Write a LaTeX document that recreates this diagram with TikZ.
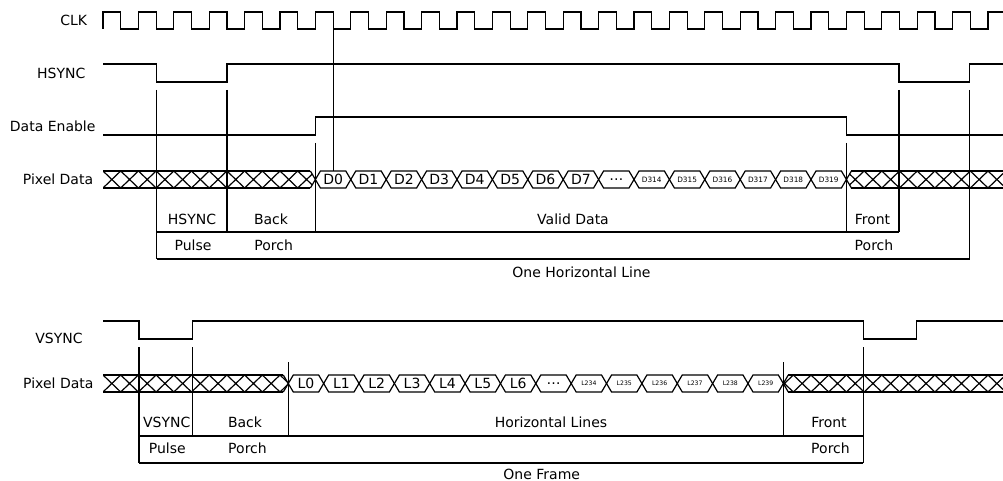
\documentclass[tikz,border=0pt]{standalone}
\usepackage{fontspec}
\setmainfont{DejaVu Sans}
\usetikzlibrary{positioning}

% crossed (invalid) bus section: xa, xb, top, bottom, left taper, right taper
\newcommand{\hatchbus}[6]{%
  \begin{scope}
    \clip (#1,{(#3+#4)/2}) -- (#1+#5,#3) -- (#2-#6,#3) -- (#2,{(#3+#4)/2}) -- (#2-#6,#4) -- (#1+#5,#4) -- cycle;
    \foreach \hx in {103,120.7,...,1010} {
      \draw (\hx,#3) -- ++(17.7,#4-#3) (\hx,#4) -- ++(17.7,#3-#4);
    }
  \end{scope}
  \draw (#1+#5,#3) -- (#2-#6,#3) (#1+#5,#4) -- (#2-#6,#4);
  \ifdim#5pt>0pt \draw (#1+#5,#3) -- (#1,{(#3+#4)/2}) -- (#1+#5,#4); \fi
  \ifdim#6pt>0pt \draw (#2-#6,#3) -- (#2,{(#3+#4)/2}) -- (#2-#6,#4); \fi
}

\begin{document}
\begin{tikzpicture}[x=0.75pt,y=-0.75pt,line width=0.9pt,
   font=\fontsize{10.5}{12}\selectfont,
   sig/.style={inner sep=0pt},
   cellt/.style={inner sep=0pt,font=\fontsize{5.5}{6}\selectfont},
   celll/.style={inner sep=0pt,font=\fontsize{4.6}{5}\selectfont}]
  \useasboundingbox (0,0) rectangle (1003,481);

  % signal names
  \node[sig] (clk) at (73.7,20.7) {CLK};
  \node[sig] (hs) at (61.3,73) {HSYNC};
  \node[sig] (de) at (52.7,126) {Data Enable};
  \node[sig] (pd) at (58,179.5) {Pixel Data};
  \node[sig] (vs) at (59,338) {VSYNC};
  \node[sig] (pd2) at (58.3,383) {Pixel Data};

  % clock
  \draw (103,29) -- (103,12)
    \foreach \k in {1,...,25} { -- ++(17.7,0) -- ++(0,17) -- ++(17.7,0) -- ++(0,-17) }
    -- (1003,12);
  \draw (333.1,12) -- (333.1,171);

  % hsync and data enable
  \draw (103,64) -- (156.5,64) -- (156.5,82) -- (227,82) -- (227,64) -- (899,64)
    -- (899,82) -- (969.5,82) -- (969.5,64) -- (1003,64);
  \draw (103,135) -- (315.4,135) -- (315.4,117) -- (846.4,117) -- (846.4,135) -- (1003,135);

  % pixel data, one line
  \hatchbus{103}{315.4}{171}{188}{0}{5}
  \foreach \lab/\sty [count=\i from 0] in {D0/sig,D1/sig,D2/sig,D3/sig,D4/sig,D5/sig,D6/sig,D7/sig,{\dots}/sig,
      D314/cellt,D315/cellt,D316/cellt,D317/cellt,D318/cellt,D319/cellt} {
    \draw (315.4+\i*35.4,179.5) -- ++(5,-8.5) -- ++(25.4,0) -- ++(5,8.5) -- ++(-5,8.5) -- ++(-25.4,0) -- cycle;
    \node[\sty] (d\i) at (333.1+\i*35.4,179.5) {\lab};
  }
  \hatchbus{846.4}{1003}{171}{188}{5}{0}

  % line timing brackets
  \draw (156.5,90) -- (156.5,259);
  \draw (227,90) -- (227,232);
  \draw (315.4,143) -- (315.4,232);
  \draw (846.4,143) -- (846.4,232);
  \draw (899,90) -- (899,232);
  \draw (969.5,90) -- (969.5,259);
  \draw (156.5,232) -- (899,232);
  \draw (156.5,259) -- (969.5,259);
  \node[sig] (hsp1) at (192,219) {HSYNC};
  \node[sig] (hsp2) at (193,245) {Pulse};
  \node[sig] (hbp1) at (271,219) {Back};
  \node[sig] (hbp2) at (273.7,245) {Porch};
  \node[sig] (vd) at (573,219) {Valid Data};
  \node[sig] (hfp1) at (872.5,219) {Front};
  \node[sig] (hfp2) at (874,245) {Porch};
  \node[sig] (hline) at (581.5,272) {One Horizontal Line};

  % vsync
  \draw (103,321) -- (139,321) -- (139,339) -- (192.3,339) -- (192.3,321) -- (863.3,321)
    -- (863.3,339) -- (916.7,339) -- (916.7,321) -- (1003,321);

  % pixel data, one frame
  \hatchbus{103}{288.3}{375}{392}{0}{5}
  \foreach \lab/\sty [count=\i from 0] in {L0/sig,L1/sig,L2/sig,L3/sig,L4/sig,L5/sig,L6/sig,{\dots}/sig,
      L234/celll,L235/celll,L236/celll,L237/celll,L238/celll,L239/celll} {
    \draw (288.3+\i*35.36,383.5) -- ++(5,-8.5) -- ++(25.36,0) -- ++(5,8.5) -- ++(-5,8.5) -- ++(-25.36,0) -- cycle;
    \node[\sty] (l\i) at (306+\i*35.36,383.5) {\lab};
  }
  \hatchbus{783.3}{1003}{375}{392}{5}{0}

  % frame timing brackets
  \draw (139,347) -- (139,463);
  \draw (192.3,347) -- (192.3,436);
  \draw (288.3,362) -- (288.3,436);
  \draw (783.3,362) -- (783.3,436);
  \draw (863.3,347) -- (863.3,463);
  \draw (139,436) -- (863.3,436);
  \draw (139,463) -- (863.3,463);
  \node[sig] (vsp1) at (166.7,422) {VSYNC};
  \node[sig] (vsp2) at (167.3,448.3) {Pulse};
  \node[sig] (vbp1) at (245,422) {Back};
  \node[sig] (vbp2) at (247.5,448.3) {Porch};
  \node[sig] (hl) at (551,422) {Horizontal Lines};
  \node[sig] (vfp1) at (829,422) {Front};
  \node[sig] (vfp2) at (830.5,448.3) {Porch};
  \node[sig] (frame) at (541.7,474.3) {One Frame};
\end{tikzpicture}
\end{document}
